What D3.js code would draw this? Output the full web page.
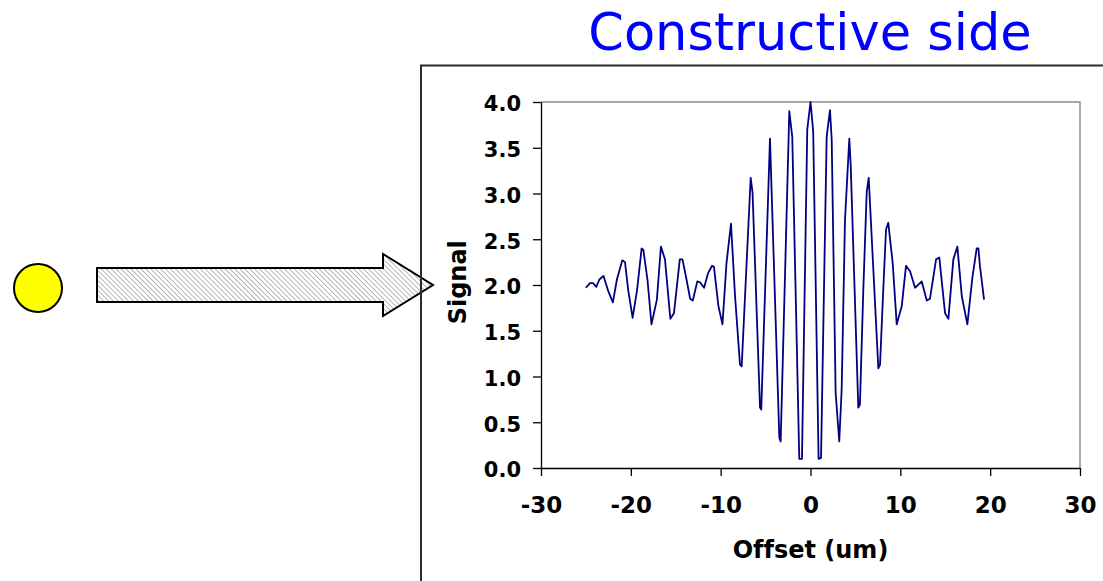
<!DOCTYPE html>
<html>
<head>
<meta charset="utf-8">
<script src="https://cdn.jsdelivr.net/npm/d3@7"></script>
<style>
  html, body { margin: 0; padding: 0; background: #fff; }
  svg { display: block; }
  text { font-variant-ligatures: none; }
</style>
</head>
<body>
<svg id="chart" width="1103" height="581"></svg>
<script>
// Fringe scan: signal vs. offset
const offset = [
  -25.0, -24.55, -24.2, -23.85, -23.5, -23.05, -22.5, -22.0, -21.55, -20.95,
  -20.65, -20.3, -19.8, -19.3, -18.8, -18.6, -18.15, -17.7, -17.1, -16.65,
  -16.2, -15.6, -15.2, -14.55, -14.25, -13.8, -13.4, -13.1, -12.6, -12.3,
  -11.85, -11.4, -10.95, -10.75, -10.25, -9.8, -9.35, -8.85, -8.4, -7.85,
  -7.66, -6.66, -6.45, -5.62, -5.48, -4.51, -3.47, -3.32, -2.36, -2.03,
  -1.25, -0.95, -0.36, 0.0, 0.3, 0.9, 1.17, 1.8, 2.17, 2.36,
  2.8, 3.2, 3.47, 3.84, 4.32, 4.48, 5.32, 5.5, 5.88, 6.26,
  6.48, 7.55, 7.74, 8.1, 8.41, 8.66, 9.15, 9.6, 10.16, 10.63,
  11.08, 11.64, 12.38, 12.94, 13.3, 13.98, 14.34, 14.98, 15.35, 15.9,
  16.35, 16.84, 17.46, 18.02, 18.5, 18.69, 18.87, 19.32
];
const signal = [
  1.97, 2.02, 2.02, 1.98, 2.06, 2.10, 1.93, 1.81, 2.06, 2.27,
  2.25, 1.95, 1.64, 1.95, 2.40, 2.38, 2.06, 1.57, 1.84, 2.42,
  2.28, 1.63, 1.69, 2.28, 2.28, 2.06, 1.85, 1.83, 2.04, 2.03,
  1.97, 2.13, 2.21, 2.20, 1.77, 1.57, 2.24, 2.67, 1.88, 1.13,
  1.11, 3.17, 3.01, 0.66, 0.64, 3.60, 0.33, 0.29, 3.90, 3.62,
  0.10, 0.10, 3.70, 4.00, 3.68, 0.10, 0.11, 3.62, 3.91, 3.59,
  0.82, 0.29, 0.86, 2.71, 3.60, 3.30, 0.66, 0.69, 1.95, 3.02,
  3.17, 1.09, 1.13, 1.95, 2.61, 2.68, 2.24, 1.57, 1.77, 2.21,
  2.15, 1.97, 2.04, 1.83, 1.85, 2.28, 2.30, 1.69, 1.63, 2.28,
  2.42, 1.88, 1.57, 2.08, 2.40, 2.40, 2.20, 1.84
];
const xTicks = [-30, -20, -10, 0, 10, 20, 30];
const yTicks = [0, 0.5, 1.0, 1.5, 2.0, 2.5, 3.0, 3.5, 4.0];

const titleText = "Constructive side";
const xTitle = "Offset (um)";
const yTitle = "Signal";

const svg = d3.select("#chart");
const tickFont = "'DejaVu Sans', Verdana, sans-serif";

// Hatched fill for the arrow (stripes running top-left to bottom-right)
const defs = svg.append("defs");
const pat = defs.append("pattern")
  .attr("id", "hatch")
  .attr("patternUnits", "userSpaceOnUse")
  .attr("width", 3.5).attr("height", 3.5)
  .attr("patternTransform", "rotate(-45)");
pat.append("rect").attr("width", 3.5).attr("height", 3.5).attr("fill", "#ffffff");
pat.append("line")
  .attr("x1", 0).attr("y1", 0).attr("x2", 0).attr("y2", 3.5)
  .attr("stroke", "#a6a6a6").attr("stroke-width", 1.6);

// Title
svg.append("text")
  .attr("x", 810).attr("y", 50)
  .attr("text-anchor", "middle")
  .attr("font-family", "'DejaVu Sans', sans-serif")
  .attr("font-size", 51)
  .attr("fill", "#0000ff")
  .text(titleText);

// Source dot and arrow
svg.append("circle")
  .attr("cx", 38).attr("cy", 288).attr("r", 24)
  .attr("fill", "#ffff00").attr("stroke", "#000").attr("stroke-width", 2);

const arrow = d3.path();
arrow.moveTo(97, 268);
arrow.lineTo(383, 268);
arrow.lineTo(383, 254);
arrow.lineTo(433, 285);
arrow.lineTo(383, 316);
arrow.lineTo(383, 302);
arrow.lineTo(97, 302);
arrow.closePath();
svg.append("path")
  .attr("d", arrow.toString())
  .attr("fill", "url(#hatch)")
  .attr("stroke", "#000").attr("stroke-width", 2)
  .attr("stroke-linejoin", "miter");

// Chart frame
svg.append("rect")
  .attr("x", 421).attr("y", 65.5)
  .attr("width", 800).attr("height", 700)
  .attr("fill", "none")
  .attr("stroke", "#2a2a2a").attr("stroke-width", 2);

// Scales
const x = d3.scaleLinear().domain([-30, 30]).range([541, 1080]);
const y = d3.scaleLinear().domain([0, 4]).range([468, 102]);

// Plot area outline (top and right)
svg.append("path")
  .attr("d", `M${x(-30)},${y(4)}H${x(30)}V${y(0)}`)
  .attr("fill", "none")
  .attr("stroke", "#8c8c8c").attr("stroke-width", 1.5);

// Y axis
const yAxis = svg.append("g")
  .attr("transform", `translate(${x(-30)},0)`)
  .call(d3.axisLeft(y).tickValues(yTicks).tickFormat(d3.format(".1f"))
    .tickSize(8).tickSizeOuter(0).tickPadding(12));
yAxis.select(".domain").attr("stroke", "#000").attr("stroke-width", 1.3);
yAxis.selectAll(".tick line").attr("stroke", "#000").attr("stroke-width", 1.3);
yAxis.selectAll(".tick text")
  .attr("dy", "0.42em")
  .attr("font-family", tickFont).attr("font-weight", "bold")
  .attr("font-size", 21).attr("fill", "#000");

// X axis (plain hyphen for negatives)
const xAxis = svg.append("g")
  .attr("transform", `translate(0,${y(0)})`)
  .call(d3.axisBottom(x).tickValues(xTicks).tickFormat(d => String(d))
    .tickSize(8).tickSizeOuter(0).tickPadding(21));
xAxis.select(".domain").attr("stroke", "#000").attr("stroke-width", 1.3);
xAxis.selectAll(".tick line").attr("stroke", "#000").attr("stroke-width", 1.3);
xAxis.selectAll(".tick text")
  .attr("font-family", tickFont).attr("font-weight", "bold")
  .attr("font-size", 23).attr("fill", "#000");

// Axis titles
svg.append("text")
  .attr("x", x(0)).attr("y", 558)
  .attr("text-anchor", "middle")
  .attr("font-family", tickFont).attr("font-weight", "bold")
  .attr("font-size", 24).attr("fill", "#000")
  .text(xTitle);

svg.append("text")
  .attr("transform", `translate(466,${y(2.03)}) rotate(-90)`)
  .attr("text-anchor", "middle")
  .attr("font-family", tickFont).attr("font-weight", "bold")
  .attr("font-size", 24).attr("fill", "#000")
  .text(yTitle);

// Signal trace
const pts = offset.map((d, i) => [d, signal[i]]);
svg.append("path")
  .datum(pts)
  .attr("fill", "none")
  .attr("stroke", "#000080")
  .attr("stroke-width", 1.8)
  .attr("stroke-linejoin", "round")
  .attr("d", d3.line().x(d => x(d[0])).y(d => y(d[1])));
</script>
</body>
</html>
